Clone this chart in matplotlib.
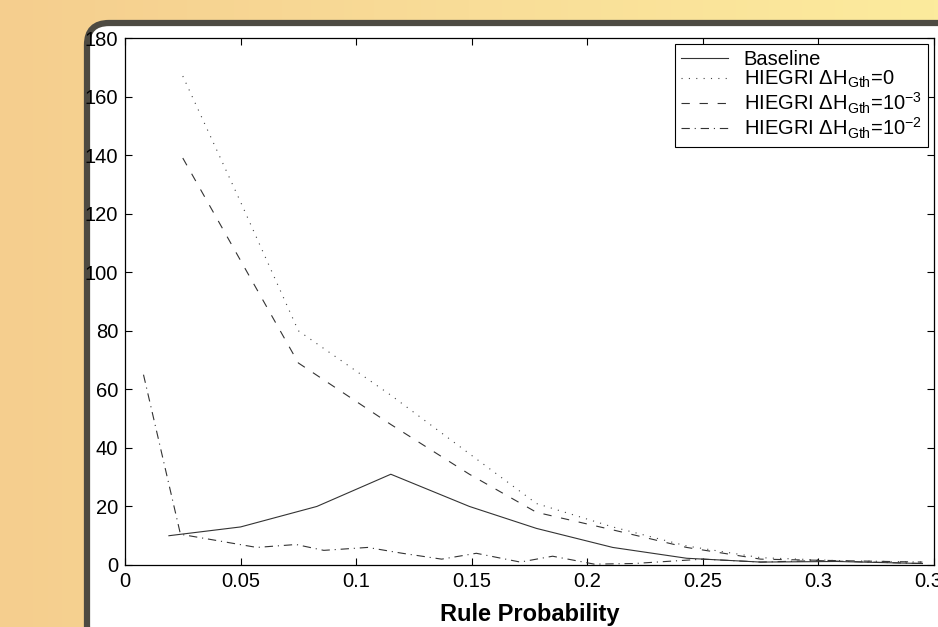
"""
Rule probability histogram: Baseline vs HIEGRI at three dH thresholds.
Slide-style screenshot (orange backdrop, rounded panel).
"""
import numpy as np
import matplotlib
matplotlib.use('Agg')
import matplotlib.pyplot as plt
from matplotlib.colors import LinearSegmentedColormap
from matplotlib.patches import FancyBboxPatch

plt.rcParams['font.family'] = ['Liberation Sans', 'DejaVu Sans']
plt.rcParams['mathtext.fontset'] = 'custom'
plt.rcParams['mathtext.rm'] = 'Liberation Sans'
plt.rcParams['mathtext.it'] = 'Liberation Sans:italic'
plt.rcParams['lines.scale_dashes'] = False

# values
base_x = [0.019, 0.050, 0.083, 0.115, 0.149, 0.178, 0.211, 0.243, 0.275, 0.308, 0.345]
base_y = [10, 13, 20, 31, 20, 12.5, 6, 2.3, 1, 1.2, 0.5]

h0_x = [0.025, 0.050, 0.075, 0.115, 0.149, 0.178, 0.211, 0.243, 0.275, 0.308, 0.345]
h0_y = [167, 124, 80, 58, 38, 21, 13, 6.5, 2.5, 1.5, 1]

h3_x = [0.025, 0.050, 0.075, 0.115, 0.149, 0.178, 0.211, 0.243, 0.275, 0.308, 0.345]
h3_y = [139, 104, 69, 48, 31, 18, 12, 6, 2, 1.5, 1]

h2_x = [0.008, 0.024, 0.057, 0.074, 0.086, 0.105, 0.120, 0.137, 0.152, 0.171,
        0.185, 0.203, 0.220, 0.250, 0.275, 0.300, 0.345]
h2_y = [65, 10.5, 6, 7, 5, 6, 4, 2, 4, 1, 3, 0.3, 0.5, 2, 1, 1.5, 0.5]

labels = ['Baseline',
          r'HIEGRI $\Delta$H$_{\rm Gth}$=0',
          r'HIEGRI $\Delta$H$_{\rm Gth}$=10$^{-3}$',
          r'HIEGRI $\Delta$H$_{\rm Gth}$=10$^{-2}$']

xticks = [0, 0.05, 0.1, 0.15, 0.2, 0.25, 0.3, 0.35]
xtick_labels = ['0', '0.05', '0.1', '0.15', '0.2', '0.25', '0.3', '0.35']
yticks = list(range(0, 181, 20))

W, H = 938, 627
fig = plt.figure(figsize=(W / 100, H / 100), dpi=100)

# backdrop: horizontal orange->yellow gradient and white rounded panel
bg = fig.add_axes([0, 0, 1, 1], zorder=-10)
bg.axis('off')
cmap = LinearSegmentedColormap.from_list('slide', ['#F5CE8E', '#F9DD98', '#FCEB9D'])
bg.imshow(np.linspace(0, 1, 256).reshape(1, -1), extent=[0, W, H, 0],
          aspect='auto', cmap=cmap)
panel = FancyBboxPatch((87, 23), 960, 625, boxstyle='round,pad=0,rounding_size=22',
                       fc='white', ec='#4d4a42', lw=4.5)
bg.add_patch(panel)
bg.set_xlim(0, W)
bg.set_ylim(H, 0)

ax = fig.add_axes([125 / W, 1 - 565 / H, (934 - 125) / W, (565 - 38) / H])
ax.set_facecolor('none')

lw = 0.8
ax.plot(base_x, base_y, color='#333333', lw=lw, linestyle='-', label=labels[0])
ax.plot(h0_x, h0_y, color='#444444', lw=lw, linestyle=(0, (0.8, 4.5)), label=labels[1])
ax.plot(h3_x, h3_y, color='#333333', lw=lw, linestyle=(0, (6, 7)), label=labels[2])
ax.plot(h2_x, h2_y, color='#333333', lw=lw, linestyle=(0, (6, 3.5, 0.8, 3.5)), label=labels[3])

ax.set_xlim(0, 0.35)
ax.set_ylim(0, 180)
ax.set_xticks(xticks)
ax.set_xticklabels(xtick_labels)
ax.set_yticks(yticks)
ax.tick_params(direction='in', length=5, width=0.8, top=True, right=True,
               labelsize=14.5, colors='black', pad=5)
for s in ax.spines.values():
    s.set_linewidth(0.9)
    s.set_color('black')

ax.set_xlabel('Rule Probability', fontsize=17, fontweight='bold', labelpad=9)

leg = ax.legend(loc='upper right', fontsize=14.5, frameon=True, fancybox=False,
                framealpha=1, edgecolor='black', borderaxespad=0.3,
                borderpad=0.3, labelspacing=0.0, handlelength=2.3,
                handletextpad=0.8)
leg.get_frame().set_linewidth(0.8)

fig.savefig('out.png', dpi=100)
